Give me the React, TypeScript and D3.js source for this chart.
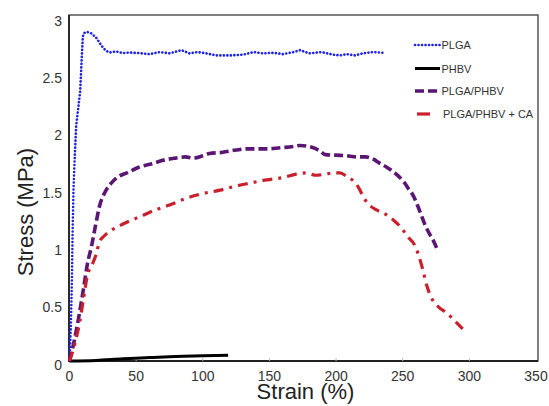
import React from "react";
import * as d3 from "d3";

// ---- data ----
const xTicks = [0, 50, 100, 150, 200, 250, 300, 350];
const yTicks = [0, 0.5, 1, 1.5, 2, 2.5, 3];

const plgaStrain = [0, 1, 1.8, 2.3, 3, 4, 5, 6.5, 8, 9, 10, 11, 13, 16, 20, 24, 27, 30, 35, 40, 45, 52.6, 60, 67.6, 75, 84, 90, 96, 102.7, 110, 120, 130, 138, 145, 153, 160, 168, 173, 180, 189, 198, 203, 208, 214, 220, 228, 235, 237];
const plgaStress = [0, 0.3, 0.7, 1.1, 1.5, 1.8, 2.05, 2.2, 2.35, 2.6, 2.83, 2.86, 2.87, 2.86, 2.82, 2.75, 2.71, 2.69, 2.7, 2.685, 2.69, 2.685, 2.676, 2.694, 2.683, 2.711, 2.683, 2.694, 2.683, 2.665, 2.665, 2.671, 2.694, 2.683, 2.688, 2.676, 2.694, 2.711, 2.683, 2.694, 2.671, 2.665, 2.676, 2.665, 2.683, 2.694, 2.688, 2.69];

const phbvStrain = [0, 20, 40, 60, 80, 100, 119];
const phbvStress = [0, 0.005, 0.02, 0.03, 0.04, 0.045, 0.05];

const blendStrain = [0, 4, 7.5, 10.5, 13.5, 16.5, 19.5, 22.5, 27, 32, 37, 43, 52, 62, 70, 80, 87, 93, 100, 105, 115, 125, 133, 148, 158, 168, 173, 183, 188, 192, 200, 208, 215, 222, 228, 232, 238, 243, 247, 251, 255, 258, 261, 264, 267, 270, 273, 276];
const blendStress = [0, 0.2, 0.42, 0.63, 0.85, 1.0, 1.18, 1.35, 1.48, 1.56, 1.61, 1.64, 1.69, 1.72, 1.75, 1.77, 1.78, 1.77, 1.79, 1.81, 1.82, 1.84, 1.85, 1.85, 1.86, 1.87, 1.88, 1.86, 1.83, 1.8, 1.795, 1.79, 1.78, 1.78, 1.76, 1.73, 1.69, 1.65, 1.61, 1.56, 1.49, 1.44, 1.36, 1.27, 1.18, 1.11, 1.05, 0.97];

const caStrain = [0, 4, 7.5, 10.5, 13.5, 17, 20, 22.5, 26, 30, 36, 43, 53, 65, 75, 88, 100, 113, 123, 135, 148, 160, 170, 178, 185, 192, 198, 203, 208, 213, 217, 221, 225, 230, 237, 243, 249, 254, 259, 262, 265, 268, 272, 277, 283, 289, 295];
const caStress = [0, 0.15, 0.33, 0.54, 0.75, 0.84, 0.93, 1.04, 1.09, 1.13, 1.17, 1.21, 1.26, 1.32, 1.36, 1.42, 1.46, 1.49, 1.52, 1.55, 1.58, 1.6, 1.63, 1.64, 1.62, 1.63, 1.64, 1.64, 1.61, 1.57, 1.51, 1.42, 1.36, 1.32, 1.28, 1.23, 1.16, 1.08, 1.01, 0.92, 0.8, 0.66, 0.54, 0.47, 0.42, 0.35, 0.28];

const seriesNames = ["PLGA", "PHBV", "PLGA/PHBV", "PLGA/PHBV + CA"];

const FONT = "'Liberation Sans', Arial, Helvetica, sans-serif";

type S = { name: string; xs: number[]; ys: number[]; color: string; width: number; dash: string; cap: string; curve: any };

export default function App() {
  const W = 549, H = 406;
  const x = d3.scaleLinear().domain([0, 350]).range([69.5, 536]);
  const y = d3.scaleLinear().domain([0, 3]).range([361, 17]);

  const series: S[] = [
    { name: seriesNames[0], xs: plgaStrain, ys: plgaStress, color: "#1c22e6", width: 2.6, dash: "0.1 3.4", cap: "round", curve: d3.curveLinear },
    { name: seriesNames[1], xs: phbvStrain, ys: phbvStress, color: "#000000", width: 3, dash: "", cap: "butt", curve: d3.curveMonotoneX },
    { name: seriesNames[2], xs: blendStrain, ys: blendStress, color: "#5a1672", width: 3.6, dash: "9 4", cap: "butt", curve: d3.curveMonotoneX },
    { name: seriesNames[3], xs: caStrain, ys: caStress, color: "#c8202c", width: 3.2, dash: "10 6 3 6", cap: "butt", curve: d3.curveMonotoneX },
  ];

  const paths = series.map((s) => {
    const pts: [number, number][] = s.xs.map((v, i) => [v, s.ys[i]]);
    const line = d3.line<[number, number]>().x((d) => x(d[0])).y((d) => y(d[1])).curve(s.curve);
    return line(pts) || "";
  });

  const legendX1 = 415, legendX2 = 440;
  const legendYs = [45, 68.5, 91, 114];

  return (
    <div style={{ position: "fixed", left: 0, top: 0, width: W, height: H, background: "#fff" }}>
      <svg width={W} height={H} style={{ display: "block" }}>
        <rect x={0} y={0} width={W} height={H} fill="#fff" />
        {/* frame */}
        <rect x={69} y={15} width={469} height={346} fill="none" stroke="#4a4a4a" strokeWidth={1.4} />
        <line x1={69} x2={69} y1={15} y2={361} stroke="#222" strokeWidth={1.8} />
        <line x1={68} x2={538} y1={361} y2={361} stroke="#222" strokeWidth={1.8} />

        {/* faint inner tick marks */}
        {xTicks.slice(1, -1).map((t) => (
          <line key={"xt" + t} x1={x(t)} x2={x(t)} y1={361} y2={358} stroke="#bbb" strokeWidth={1} />
        ))}

        {/* tick labels */}
        {xTicks.map((t) => (
          <text key={"x" + t} x={x(t)} y={380.5} textAnchor="middle" fontFamily={FONT} fontSize={14} fill="#333">
            {String(t)}
          </text>
        ))}
        {yTicks.map((t) => (
          <text key={"y" + t} x={62} y={y(t) + 8.5} textAnchor="end" fontFamily={FONT} fontSize={14} fill="#333">
            {String(t)}
          </text>
        ))}

        {/* axis titles */}
        <text x={305.5} y={399} textAnchor="middle" fontFamily={FONT} fontSize={22} fill="#222">
          Strain (%)
        </text>
        <text transform="translate(33,212) rotate(-90)" textAnchor="middle" fontFamily={FONT} fontSize={22} fill="#222">
          Stress (MPa)
        </text>

        {/* series */}
        {series.map((s, i) => (
          <path
            key={s.name}
            d={paths[i]}
            fill="none"
            stroke={s.color}
            strokeWidth={s.width}
            strokeDasharray={s.dash || undefined}
            strokeLinecap={s.cap as any}
            strokeLinejoin="round"
          />
        ))}

        {/* legend */}
        {series.map((s, i) => (
          <g key={"lg" + s.name}>
            <line
              x1={i === 3 ? legendX1 + 2 : legendX1}
              x2={legendX2}
              y1={legendYs[i]}
              y2={legendYs[i]}
              stroke={s.color}
              strokeWidth={s.width}
              strokeDasharray={i === 3 ? "13 20" : s.dash || undefined}
              strokeLinecap={s.cap as any}
            />
            <text x={i === 3 ? 443 : 441.5} y={legendYs[i] + 4} fontFamily={FONT} fontSize={11} fill="#333">
              {s.name}
            </text>
          </g>
        ))}
      </svg>
    </div>
  );
}
